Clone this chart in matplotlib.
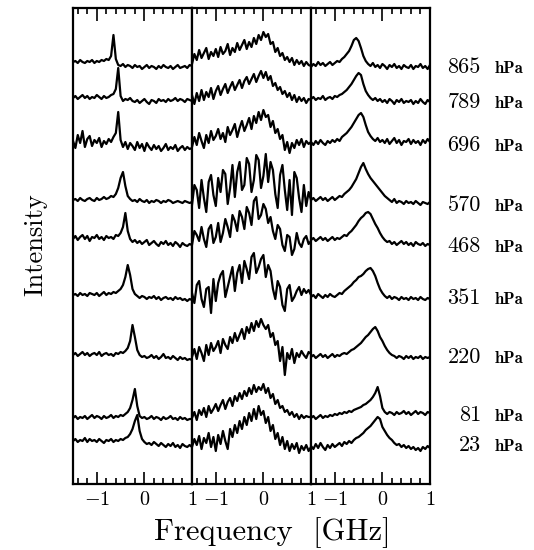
import numpy as np
import matplotlib
matplotlib.use("Agg")
import matplotlib.pyplot as plt
from matplotlib.ticker import MultipleLocator
from matplotlib import transforms

plt.rcParams['mathtext.fontset'] = 'cm'
plt.rcParams['font.family'] = 'cmr10'

# pressures of the stacked spectra, top to bottom
pressures = [865, 789, 696, 570, 468, 351, 220, 81, 23]
# vertical stacking offset of each spectrum (arbitrary intensity units)
offsets = [422, 386, 339, 284, 245, 189, 129, 66, 43]
# height of the pressure label next to each spectrum
label_y = [418, 383, 340, 280, 239, 187, 128, 70, 40]

# intensity, every 0.05 GHz from -1.5 to 1.0 GHz
# a = left line, b = middle line, c = right line
a865 = [0, 1, -1, 2, 0, -1, 1, 0, 2, -1, 1, 0, 2, 1, 3, 2, 6, 27, 3, -3, -4, -2, -5, -3, -4, -6,
        -3, -5, -4, -7, -5, -3, -6, -4, -5, -7, -4, -6, -3, -5, -6, -4, -7, -5, -3, -6, -5, -4, -6, -3, -4]
b865 = [-2, 8, 2, 12, 4, 9, 14, 3, 10, 6, 13, 5, 15, 8, 11, 18, 7, 14, 10, 19, 12,
        17, 22, 13, 20, 15, 24, 18, 27, 22, 30, 25, 28, 18, 20, 10, 14, 6, 9, 2, 5,
        0, 4, -3, 2, -2, 1, -4, 0, -3, -4]
c865 = [-5, -2, -4, 0, -3, -1, -4, -2, 0, -3, -1, 1, 0, 3, 5, 8, 11, 16, 22, 24, 21,
        14, 6, 1, -2, -4, -1, -5, -3, -6, -2, -4, -7, -3, -5, -2, -6, -4, -7, -3, -5,
        -6, -3, -7, -4, -5, -2, -6, -4, -7, -3]

a789 = [0, 2, -1, 1, 3, 0, 2, -1, 1, 0, 3, 1, -1, 2, 0, 1, 3, 4, 9, 30, 2, -3, -1, -2, 0, -3,
        -4, -2, -5, -3, -1, -4, -6, -2, -3, -5, -1, -3, -2, -4, -1, -3, -2, 0, -3, -1, -2, -4, -1, -2, -3]
b789 = [3, -6, 5, -3, 8, -2, 6, 1, 10, -1, 7, 12, 3, 9, 14, 5, 11, 16, 8, 13, 18,
        10, 17, 21, 14, 19, 24, 16, 22, 27, 20, 26, 18, 22, 12, 15, 8, 11, 4, 7, 1,
        5, -2, 3, -4, 1, -3, 0, -5, -1, -2]
c789 = [-1, 1, -2, 0, -1, 2, -2, 0, 1, -1, 2, 1, 3, 4, 6, 8, 11, 14, 18, 22, 25,
        23, 14, 7, 3, 0, -2, 0, -3, -1, -4, -2, -5, -1, -3, -6, -2, -4, -1, -5, -3,
        -4, -2, -6, -3, -5, -1, -4, -6, -2, -4]

a696 = [4, -3, 10, 2, 14, -2, 6, 9, -1, 5, 2, 7, -2, 4, 1, 6, 3, 8, 12, 33, 5, -2, 3, -4, 2, -1,
        -5, 3, -3, 1, -6, 2, -2, -5, 0, -4, -1, -6, -3, 1, -5, -2, -4, 0, -6, -3, -1, -5, -2, -4, -3]
b696 = [-2, 8, 0, 12, 4, -3, 10, 2, 14, 5, 9, 16, 6, 12, 3, 18, 10, 15, 21, 8, 17,
        24, 14, 20, 27, 16, 29, 22, 33, 25, 35, 28, 30, 18, 24, 12, 16, 6, 10, -5, 3,
        -8, 2, -3, 5, 0, 6, -2, 4, 1, 3]
c696 = [3, 0, 4, 1, 5, 2, 0, 4, 2, 5, 3, 6, 4, 8, 10, 12, 15, 18, 22, 26, 30,
        32, 28, 20, 13, 9, 6, 4, 7, 3, 5, 2, 6, 1, 4, 7, 2, 5, 0, 4, 3,
        6, 1, 5, 2, 4, 0, 5, 2, 6, 3]

a570 = [0, 1, -1, 2, 0, -1, 1, 2, 0, -1, 2, 0, 1, 3, 1, 2, 4, 3, 6, 12, 22, 28, 14, 4, 1, -1,
        0, -2, 1, -1, -2, 0, -3, -1, -2, 0, -1, -3, -1, -2, 0, -1, -3, -2, -1, -2, -3, -1, -2, -3, -2]
b570 = [-5, 15, 10, -8, 20, 2, -12, 18, 25, 5, -6, 22, 8, 30, 26, -4, 12, 35, 3, 28,
        38, 10, 15, 42, 36, 8, 20, 45, 40, 12, 24, 46, 18, 38, 30, 6, -8, 25, 35, 10,
        -10, 20, -15, 28, 22, 2, -12, 15, -6, 8, 0]
c570 = [0, 2, -1, 1, 3, 0, 2, -1, 1, 3, 0, 2, 4, 3, 6, 8, 10, 13, 17, 21, 27,
        33, 37, 31, 26, 22, 19, 16, 13, 10, 7, 4, 2, 0, -2, 1, -3, -1, -2, -4, -1,
        -3, -2, -4, -1, -3, -5, -2, -3, -4, -2]

a468 = [0, 3, -1, 2, 4, 0, 3, -2, 2, 1, 4, 0, 2, -1, 3, 1, 2, 0, 4, 3, 6, 12, 26, 8, 0, -3,
        -1, -4, -2, -5, -3, -1, -6, -4, -2, -5, -7, -3, -5, -2, -6, -4, -7, -3, -5, -8, -4, -6, -7, -5, -6]
b468 = [-6, 8, 4, -2, 12, 0, -8, 10, 14, -4, 2, 16, -3, 6, 20, 12, 2, 24, 18, 8,
        28, 22, 10, 32, 26, 14, 38, 42, 20, 24, 35, 30, 16, 22, 8, 0, 14, 10, -6, -12,
        4, 2, -16, -10, 6, -4, -8, 0, 3, -5, -2]
c468 = [-1, 1, -2, 0, 2, -1, 1, -2, 0, 2, -1, 1, 0, 2, 4, 3, 6, 8, 11, 14, 18,
        21, 23, 26, 27, 25, 20, 15, 11, 6, 2, -1, -3, -2, -5, -3, -6, -4, -2, -5, -3,
        -6, -4, -7, -3, -5, -6, -4, -7, -5, -6]

a351 = [0, 1, -1, 2, 0, 1, -1, 2, 1, 0, 2, -1, 1, 3, 0, 2, 1, 3, 2, 4, 6, 10, 18, 30, 20, 6,
        1, -1, -3, -1, -2, -4, -2, -3, -1, -4, -2, -5, -3, -2, -4, -3, -5, -2, -4, -3, -5, -4, -6, -4, -5]
b351 = [2, -8, 10, 14, -4, -12, 6, 8, -18, 16, -6, 12, 20, 24, -2, 8, 18, 28, 4, 22,
        30, 12, 34, 26, 16, 38, 42, 22, 28, 36, 40, 18, 30, 24, 6, -4, 14, 8, -10, -16,
        6, 10, -6, -2, 4, 8, 0, 6, 2, 5, 0]
c351 = [-2, 0, -3, 1, -1, -3, 0, -2, 1, -1, -2, 0, 2, 1, 4, 6, 8, 10, 13, 15, 18,
        19, 21, 24, 26, 27, 24, 19, 12, 6, 2, -1, -3, -1, -4, -2, -3, -5, -2, -4, -3,
        -5, -2, -4, -3, -5, -2, -4, -5, -3, -4]

a220 = [0, 2, -1, 1, 3, 0, 2, -1, 1, 2, 0, 3, -1, 1, 2, 0, 1, -1, 2, 1, 3, 2, 4, 7, 14, 30,
        18, 5, 0, -2, -1, -3, -2, 0, -3, -1, -4, -2, 1, -3, -2, -4, -1, -3, -5, -2, -4, -3, -5, -4, -5]
b220 = [-2, 6, -4, 8, 2, -6, 10, 0, 12, 4, 8, 14, 2, 16, 10, 6, 18, 12, 22, 14, 20,
        26, 16, 28, 22, 32, 24, 34, 28, 36, 30, 26, 30, 18, 22, 10, 14, -6, 8, -20, 2,
        -4, 6, -8, 2, -2, 4, 0, -3, 3, 1]
c220 = [-2, 0, -3, -1, 1, -2, 0, -3, -1, 1, -2, 0, -1, 1, 2, 1, 3, 5, 6, 8, 10,
        12, 15, 18, 20, 23, 26, 28, 24, 18, 14, 9, 5, 2, 0, -1, -3, -1, -2, -4, -1,
        -3, -1, -4, -2, -3, -1, -4, -2, -3, -2]

a81 = [0, 2, -1, 1, 0, 2, -1, 1, 3, 0, 2, 1, -1, 2, 0, 1, 3, 0, 2, 1, 3, 2, 4, 6, 10, 18,
       29, 12, 2, 0, 1, -1, 0, 2, -1, 1, 0, -2, 1, -1, 0, 2, -1, 0, -2, 1, -1, 0, -2, -1, -1]
b81 = [0, 6, -2, 8, 3, 10, 1, 12, 5, 9, 14, 7, 13, 18, 9, 16, 20, 12, 22, 17, 25,
       19, 27, 22, 30, 24, 33, 26, 31, 28, 34, 25, 30, 20, 24, 14, 18, 10, 12, 6, 8,
       3, 6, 1, 4, -1, 3, 0, 2, 1, 1]
c81 = [0, 2, -1, 1, 3, 0, 2, 1, 3, 2, 4, 3, 5, 4, 6, 5, 7, 6, 8, 9, 10,
       11, 13, 14, 16, 18, 21, 25, 31, 22, 10, 6, 4, 6, 5, 3, 6, 4, 5, 7, 4,
       6, 3, 5, 7, 4, 6, 5, 3, 6, 5]

a23 = [0, 2, -1, 1, 0, 3, -1, 2, 0, 1, -1, 2, 0, -2, 1, 0, 2, -1, 1, 0, 2, 1, 3, 4, 7, 12,
       20, 26, 10, 2, -1, -3, -2, -4, -1, -3, -5, -2, -4, -6, -3, -5, -2, -6, -4, -7, -3, -5, -6, -4, -6]
b23 = [-6, 2, -4, 5, -8, 3, -2, 8, -6, 4, -10, 6, -3, 10, 0, -8, 12, 4, 16, 8, 20,
       12, 24, 16, 28, 20, 32, 22, 35, 26, 30, 18, 24, 10, 16, 2, 8, -4, 4, -8, 0,
       -10, -3, -8, -2, -12, -5, -9, -4, -10, -6]
c23 = [-5, -8, -3, -7, -2, -6, -9, -4, -7, -3, -6, -4, -2, -5, -1, -3, 0, -2, 1, 3, 4,
       6, 8, 11, 13, 15, 18, 21, 24, 22, 14, 10, 6, 3, 1, -2, -4, -3, -6, -4, -7,
       -5, -8, -6, -9, -7, -10, -6, -8, -5, -7]

left_lines = [a865, a789, a696, a570, a468, a351, a220, a81, a23]
mid_lines = [b865, b789, b696, b570, b468, b351, b220, b81, b23]
right_lines = [c865, c789, c696, c570, c468, c351, c220, c81, c23]

fig, axes = plt.subplots(1, 3, sharey=True, figsize=(5.34, 5.5), dpi=100,
                         gridspec_kw={'wspace': 0})
fig.subplots_adjust(left=73 / 534, right=430 / 534, bottom=1 - 484 / 550, top=1 - 8 / 550)

for ax, panel in zip(axes, [left_lines, mid_lines, right_lines]):
    for off, vals in zip(offsets, panel):
        x = np.linspace(-1.5, 1.0, len(vals))
        ax.plot(x, off + np.array(vals), color='black', lw=1.6)
    ax.set_xlim(-1.5, 1.0)
    ax.set_ylim(0, 476)
    ax.set_xticks([-1, 0, 1])
    ax.set_xticklabels([r'$-1$', r'$0$', r'$1$'])
    ax.xaxis.set_minor_locator(MultipleLocator(0.2))
    ax.tick_params(axis='x', which='both', direction='in', top=True, bottom=True,
                   labelsize=14.5, pad=5, width=1.2, color='black')
    ax.tick_params(axis='x', which='major', length=9)
    ax.tick_params(axis='x', which='minor', length=4)
    ax.tick_params(axis='y', left=False, labelleft=False)
    for s in ax.spines.values():
        s.set_linewidth(1.6)

trans = transforms.blended_transform_factory(fig.transFigure, axes[2].transData)
for p, y in zip(pressures, label_y):
    axes[2].text(481 / 534, y - 7, str(p), transform=trans, ha='right', va='baseline',
                 fontsize=16, clip_on=False)
    axes[2].text(495 / 534, y - 7, 'hPa', transform=trans, ha='left', va='baseline',
                 fontsize=12, family='cmb10', clip_on=False)

fig.text(272 / 534, 1 - 540 / 550, 'Frequency  [GHz]', ha='center', va='baseline', fontsize=22)
fig.text(35 / 534, 1 - 245 / 550, 'Intensity', ha='center', va='center', rotation=90, fontsize=19)

fig.savefig('out.png', dpi=100)
